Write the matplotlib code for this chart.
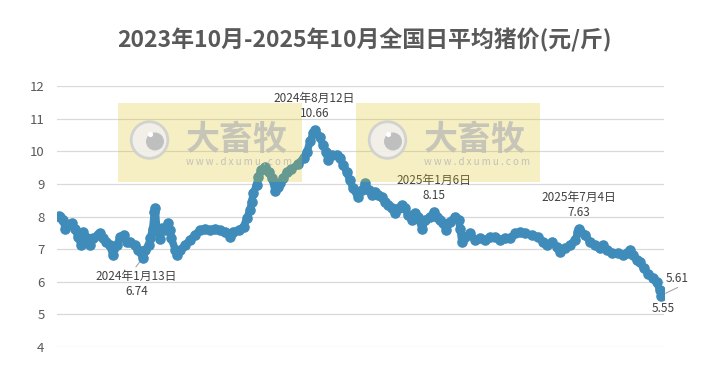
import matplotlib
matplotlib.use('Agg')
import matplotlib.pyplot as plt
import matplotlib.transforms as mtransforms
from matplotlib.patches import Rectangle, Circle
import pandas as pd

plt.rcParams['font.family'] = ['Noto Sans CJK SC', 'DejaVu Sans']

# ---------------- data ----------------
title = '2023年10月-2025年10月全国日平均猪价(元/斤)'
start_date = '2023-10-01'
day_offsets = [
    0, 2, 6, 8, 16, 20, 24, 28, 30, 35, 39, 43, 49, 51, 55, 59, 63, 67, 72, 76,
    80, 84, 88, 94, 98, 104, 107, 111, 113, 116, 118, 119, 121, 125, 127, 131, 135, 137, 139, 144,
    146, 150, 156, 162, 168, 174, 180, 187, 193, 199, 205, 211, 215, 222, 228, 232, 236, 238, 240, 244,
    246, 250, 254, 259, 263, 267, 271, 273, 277, 281, 287, 295, 302, 306, 310, 314, 316, 322, 326, 330,
    332, 337, 343, 347, 351, 355, 359, 363, 369, 374, 378, 382, 386, 390, 394, 398, 402, 406, 411, 415,
    419, 423, 427, 431, 435, 439, 443, 448, 452, 458, 463, 466, 470, 474, 478, 482, 489, 493, 495, 497,
    501, 507, 513, 519, 526, 532, 538, 544, 550, 556, 563, 569, 575, 583, 591, 597, 602, 608, 614, 618,
    624, 630, 637, 640, 642, 649, 655, 661, 667, 671, 676, 682, 690, 696, 700, 704, 708, 713, 717, 721,
    727, 733, 737, 741, 743, 745,
]
prices = [
    8.02, 7.97, 7.89, 7.63, 7.79, 7.63, 7.38, 7.12, 7.53, 7.33, 7.12, 7.33, 7.43, 7.48, 7.33, 7.22, 7.12, 6.82, 7.12, 7.38,
    7.43, 7.22, 7.22, 7.12, 6.97, 6.74, 6.97, 7.12, 7.33, 7.63, 8.14, 8.25, 7.62, 7.30, 7.65, 7.60, 7.79, 7.58, 7.33, 6.97,
    6.82, 6.97, 7.12, 7.28, 7.43, 7.58, 7.63, 7.58, 7.63, 7.58, 7.53, 7.38, 7.53, 7.58, 7.69, 7.94, 8.20, 8.45, 8.71, 8.96,
    9.22, 9.42, 9.53, 9.37, 9.17, 8.79, 8.91, 9.02, 9.17, 9.35, 9.45, 9.60, 9.80, 9.98, 10.30, 10.55, 10.66, 10.44, 10.19, 9.98,
    9.73, 9.88, 9.88, 9.78, 9.58, 9.37, 9.12, 8.86, 8.60, 8.81, 9.02, 8.81, 8.66, 8.76, 8.66, 8.60, 8.45, 8.35, 8.25, 8.10,
    8.25, 8.35, 8.25, 8.04, 7.89, 8.10, 7.99, 7.63, 7.89, 7.99, 8.15, 7.99, 7.89, 7.79, 7.58, 7.84, 7.99, 7.89, 7.63, 7.22,
    7.38, 7.48, 7.28, 7.33, 7.28, 7.38, 7.38, 7.28, 7.33, 7.33, 7.48, 7.53, 7.48, 7.43, 7.38, 7.22, 7.12, 7.22, 7.07, 6.92,
    7.02, 7.12, 7.28, 7.53, 7.63, 7.43, 7.22, 7.12, 7.02, 7.12, 6.97, 6.87, 6.87, 6.82, 6.87, 6.97, 6.82, 6.66, 6.61, 6.41,
    6.25, 6.10, 6.00, 5.74, 5.55, 5.61,
]
label_dates = ['2024-01-13', '2024-08-12', '2025-01-06', '2025-07-04']
label_texts = ['2024年1月13日', '2024年8月12日', '2025年1月6日', '2025年7月4日']
label_values = [6.74, 10.66, 8.15, 7.63]
min_value = 5.55
last_value = 5.61
y_ticks = [4, 5, 6, 7, 8, 9, 10, 11, 12]

# ---------------- figure ----------------
W, H = 704, 367
fig = plt.figure(figsize=(W / 100, H / 100), dpi=100)
ax = fig.add_axes([57 / W, 1 - 347 / H, (664 - 57) / W, (347 - 86) / H])

start = pd.Timestamp(start_date)
dates = start + pd.to_timedelta(day_offsets, unit='D')

blue = '#3F8BBA'
ax.plot(dates, prices, color=blue, lw=5.4, marker='o', ms=6.6, mec=blue, mfc=blue,
        solid_joinstyle='round', solid_capstyle='round', zorder=3)

ax.set_ylim(4, 12)
ax.set_xlim(start - pd.Timedelta(days=1.97), start + pd.Timedelta(days=746.2))
ax.set_yticks(y_ticks)
ax.set_yticklabels([str(t) for t in y_ticks])
ax.set_xticks([])
ax.tick_params(axis='y', length=0, pad=9, labelsize=9.5, labelcolor='#595959')
ax.grid(axis='y', color='#D9D9D9', lw=0.9, zorder=0)
for s in ax.spines.values():
    s.set_visible(False)

fig.text(364 / W, 1 - 40 / H, title, ha='center', va='center', fontsize=16.5,
         fontweight='bold', color='#595959')

# ---------------- data labels ----------------
lab_col = '#404040'
fs = 8.5
px = 0.72  # points per pixel
for d, t, v in zip(label_dates, label_texts, label_values):
    xy = (pd.Timestamp(d), v)
    if d == '2024-01-13':
        ax.annotate(t, xy, xytext=(-7 * px, -18.5 * px), textcoords='offset points',
                    ha='center', va='center', fontsize=fs, color=lab_col)
        ax.annotate(f'{v:.2f}', xy, xytext=(-6.3 * px, -34.2 * px), textcoords='offset points',
                    ha='center', va='center', fontsize=fs, color=lab_col)
        ax.annotate('', xy, xytext=(-7 * px, -9.2 * px), textcoords='offset points',
                    arrowprops=dict(arrowstyle='-', color='#A6A6A6', lw=0.8, shrinkA=0, shrinkB=0),
                    zorder=2)
    else:
        ax.annotate(t, xy, xytext=(-0.5 * px, 31.4 * px), textcoords='offset points',
                    ha='center', va='center', fontsize=fs, color=lab_col)
        ax.annotate(f'{v:.2f}', xy, xytext=(-0.5 * px, 16 * px), textcoords='offset points',
                    ha='center', va='center', fontsize=fs, color=lab_col)

i_min = prices.index(min_value)
ax.annotate(f'{min_value:.2f}', (dates[i_min], min_value), xytext=(1.6 * px, -12 * px),
            textcoords='offset points', ha='center', va='center', fontsize=fs, color=lab_col)
ax.annotate(f'{last_value:.2f}', (dates[-1], last_value), xytext=(14 * px, 16 * px),
            textcoords='offset points', ha='center', va='center', fontsize=fs, color=lab_col)
ax.annotate('', (dates[-1], last_value), xytext=(14.7 * px, 7 * px), textcoords='offset points',
            arrowprops=dict(arrowstyle='-', color='#A6A6A6', lw=0.8, shrinkA=0, shrinkB=2), zorder=2)

# ---------------- watermarks ----------------
ident = mtransforms.IdentityTransform()


def P(x, y):
    return (x, H - y)


def watermark(x0):
    fig.add_artist(Rectangle(P(x0, 182), 184, 79, transform=ident, facecolor=(220 / 255, 195 / 255, 20 / 255),
                             alpha=0.25, edgecolor='none', zorder=5))
    fig.add_artist(Circle(P(x0 + 31.5, 140), 18.3, transform=ident, facecolor='#F1F0EC',
                          edgecolor='#CFCFCF', lw=2.0, alpha=0.9, zorder=6))
    fig.add_artist(Circle(P(x0 + 37, 141.5), 9, transform=ident, facecolor='#BDBDBD',
                          edgecolor='none', alpha=0.95, zorder=7))
    fig.add_artist(Circle(P(x0 + 32.5, 134.5), 2.6, transform=ident, facecolor='white',
                          edgecolor='none', zorder=8))
    fig.text((x0 + 119) / W, 1 - 139 / H, '大畜牧', ha='center', va='center', fontsize=24.5,
             fontweight='bold', color='#BFBEB6', alpha=0.85, zorder=7)
    fig.text((x0 + 121) / W, 1 - 162 / H, 'w w w . d x u m u . c o m', ha='center', va='center',
             fontsize=7, color='#BDBCB4', alpha=0.9, zorder=7)


watermark(118)
watermark(356)

fig.savefig('out.png', dpi=100)
